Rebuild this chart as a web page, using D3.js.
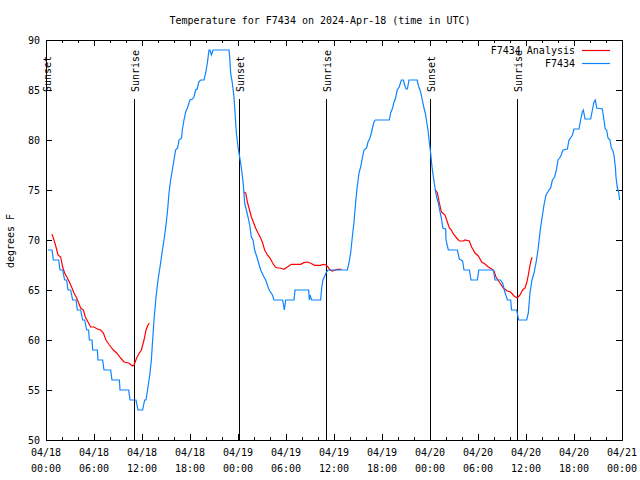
<!DOCTYPE html>
<html><head><meta charset="utf-8">
<script src="https://cdn.jsdelivr.net/npm/d3@7"></script>
<style>
html,body{margin:0;padding:0;background:#fff;}
svg{display:block;}
text{font-family:"DejaVu Sans Mono","Liberation Mono",monospace;font-size:10px;fill:#000;}
</style></head>
<body>
<script>
// ---- data (hours after 2024-04-18 00:00 UTC, degrees F) ----
const stationHours = [0.25,0.75,0.92,1.58,1.75,2.08,2.33,2.58,2.75,3.08,3.33,3.75,3.92,4.33,4.58,4.83,5.08,5.33,5.42,5.75,5.83,6.42,6.5,7.08,7.25,8.08,8.25,9.17,9.25,10.33,10.5,11.25,11.5,12.08,12.33,12.5,12.75,13.0,13.17,13.33,13.5,13.75,14.0,14.25,14.5,14.75,15.0,15.2,15.375,15.58,15.79,16.0,16.2,16.45,16.625,16.95,17.04,17.25,17.46,17.67,18.0,18.3,18.5,18.7,18.9,19.1,19.33,19.75,19.96,20.17,20.375,20.5,20.67,20.875,22.875,22.96,23.08,23.29,23.5,23.625,23.8,24.0,24.125,24.33,24.5,24.67,24.83,25.04,25.25,25.46,25.67,25.875,26.08,26.4,26.83,27.25,27.46,27.67,27.9,28.3,28.5,29.58,29.79,29.96,31.0,31.125,32.83,32.92,33.0,33.2,34.33,34.46,34.625,35.0,35.25,37.67,37.875,38.08,38.29,38.5,38.7,38.9,39.125,39.33,39.54,39.75,40.08,40.25,40.5,40.67,40.83,41.0,41.17,42.92,43.08,43.33,43.5,43.7,43.9,44.15,44.42,44.67,44.83,45.0,45.17,45.375,46.4,46.6,46.83,47.04,47.25,47.46,47.6,47.75,47.92,48.08,48.25,48.42,48.625,48.83,49.04,49.25,49.42,49.6,49.96,50.0,50.29,51.42,51.67,52.08,52.25,52.92,53.125,53.92,54.1,55.92,56.125,56.8,57.08,57.29,57.67,58.08,58.2,58.83,59.08,60.08,60.29,60.5,60.75,61.0,61.25,61.5,61.75,62.0,62.25,62.5,62.875,63.08,63.3,63.58,63.8,64.0,64.2,64.4,64.625,65.17,65.375,65.58,65.8,66.0,66.625,66.83,67.04,67.17,67.375,68.08,68.3,68.5,68.67,68.83,69.54,69.75,69.9,70.08,70.25,70.5,70.67,70.83,71.0,71.17,71.25,71.42,71.58,71.7];
const stationTemps = [69,69,68,68,67,67,66,66,65,65,64,64,63,63,62,62,61,61,60,60,59,59,58,58,57,57,56,56,55,55,54,54,53,53,54,54,55.3,56.7,58,60,62,64.3,66,67.3,68.7,70,71.5,73,74.7,76,77,78,79,79.2,80,80.2,81,82,82.8,83.2,84,84.1,84.3,85,85.1,85.8,86,86,86.7,87.7,89,89,88.5,89,89,88.3,86.7,85.7,84.3,82.7,80.7,79.3,78.7,77.7,76.7,75.5,73.7,73,72.3,71.5,70.3,70,69,68.2,67,66.3,66,65.5,65,64.5,64,64,63,64,64,65,65,64,64.5,64,64,65.2,66,66.7,67,67,67.7,68.7,70.3,71.8,73.7,75.3,76.7,77.3,78.2,79,79.2,79.8,80.2,80.7,81.3,81.8,82,82,82.7,83.2,83.8,84.2,85,85.3,86,86,85.5,85.1,85.1,86,86,85.3,84.8,84,83.2,82.5,81.7,81,79.7,78.7,77.3,76.3,75.2,74.3,73.7,72.8,72.2,71.2,71.1,70,69,69,68.1,67.9,67,67,66,66,67,67,66,66,65.7,65,64,64,63,63,62,62,62.7,64.7,66,66.7,67.7,69,70.8,72.2,73.5,74.5,75,75.2,76,76.3,77,78,78.2,78.5,79,79.1,80,80.2,80.5,81.1,81.1,82,82.8,83,82.1,82.1,83,83.8,84,83.2,83.1,82,81.1,81,80.2,80,79.2,79,78.5,77.3,76.3,75.2,74.8,74];

// analysis series: null marks a gap between runs
const analysisHours = [0.75,1.0,1.25,1.5,1.83,2.08,2.33,2.67,2.92,3.25,3.5,3.83,4.08,4.33,4.67,4.92,5.25,5.58,6.0,6.42,6.83,7.17,7.5,7.92,8.42,8.83,9.33,9.75,10.33,10.83,11.0,11.33,11.67,11.92,12.25,12.5,12.75,12.92,
  null,
  24.75,24.96,25.17,25.375,25.67,25.92,26.2,26.5,26.83,27.08,27.33,27.67,28.0,28.33,28.67,28.92,29.25,29.75,30.17,30.67,31.83,32.25,32.75,33.08,33.58,34.25,34.67,35.0,35.25,35.5,35.79,36.42,36.92,
  null,
  48.625,48.92,49.17,49.42,49.58,49.875,50.17,50.42,50.67,50.92,51.33,51.67,52.17,52.375,52.92,53.2,53.625,54.04,54.46,54.875,55.29,55.71,56.0,56.25,56.75,57.17,57.67,58.08,58.5,58.92,59.25,59.58,59.875,60.08,60.29,60.5,60.71,60.83];
const analysisTemps = [70.57,70.0,69.3,68.5,68.3,67.3,66.7,66.2,65.8,65.2,64.7,64.2,63.7,63.2,63.0,62.3,61.8,61.3,61.3,61.1,61.0,60.7,60.0,59.5,59.0,58.7,58.2,57.8,57.7,57.4,57.5,58.2,58.7,59.0,60.0,61.0,61.5,61.7,
  null,
  74.77,74.7,73.8,73.2,72.3,71.8,71.2,70.7,70.2,69.7,69.0,68.5,68.2,67.7,67.3,67.2,67.2,67.07,67.3,67.57,67.57,67.73,67.8,67.67,67.47,67.47,67.57,67.5,67.3,67.0,66.9,67.07,67.07,
  null,
  75.07,74.7,73.7,72.8,72.7,72.5,71.8,71.2,71.0,70.6,70.2,69.9,69.9,70.0,69.9,69.3,68.7,68.4,67.8,67.6,67.3,67.1,66.9,66.3,65.7,65.2,64.9,64.8,64.4,64.2,64.5,65.0,65.2,65.7,66.5,67.5,68.2,68.2];

const sunHours = [0.03, 11.04, 24.08, 35.04, 48.06, 58.92];
const sunLabels = ["Sunset","Sunrise","Sunset","Sunrise","Sunset","Sunrise"];
const yTicks = [50,55,60,65,70,75,80,85,90];
const seriesNames = ["F7434 Analysis","F7434"];
const seriesColors = ["#ff0000","#0a84ff"];
const titleText = "Temperature for F7434 on 2024-Apr-18 (time in UTC)";
const yLabel = "degrees F";

// ---- chart ----
const W = 640, H = 480;
const L = 46, R = 622, T = 40, B = 440;
const base = Date.UTC(2024,3,18,0,0);
const toDate = h => new Date(base + h*3600e3);

const svg = d3.select("body").append("svg").attr("width",W).attr("height",H);
svg.append("rect").attr("width",W).attr("height",H).attr("fill","#fff");

const x = d3.scaleUtc().domain([toDate(0), toDate(72)]).range([L,R]);
const y = d3.scaleLinear().domain([50,90]).range([B,T]);

function styleAxis(g){ g.select(".domain").remove(); g.selectAll("line").attr("stroke","#000").attr("shape-rendering","crispEdges"); g.selectAll("text").remove(); }

const major = d3.utcHour.every(6), minor = d3.utcHour.every(2);
svg.append("g").attr("transform",`translate(0,${B})`).call(d3.axisBottom(x).ticks(minor).tickSize(-3).tickFormat("")).call(styleAxis);
svg.append("g").attr("transform",`translate(0,${B})`).call(d3.axisBottom(x).ticks(major).tickSize(-6).tickFormat("")).call(styleAxis);
svg.append("g").attr("transform",`translate(0,${T})`).call(d3.axisTop(x).ticks(minor).tickSize(-3).tickFormat("")).call(styleAxis);
svg.append("g").attr("transform",`translate(0,${T})`).call(d3.axisTop(x).ticks(major).tickSize(-6).tickFormat("")).call(styleAxis);
svg.append("g").attr("transform",`translate(${L},0)`).call(d3.axisLeft(y).tickValues(yTicks).tickSize(-6).tickFormat("")).call(styleAxis);
svg.append("g").attr("transform",`translate(${R},0)`).call(d3.axisRight(y).tickValues(yTicks).tickSize(-6).tickFormat("")).call(styleAxis);

// tick labels
svg.append("g").selectAll("text").data(yTicks).join("text")
  .attr("x",L-6).attr("y",d=>y(d)+3.6).attr("text-anchor","end").text(d=>d);
const fmtD = d3.utcFormat("%m/%d"), fmtT = d3.utcFormat("%H:%M");
const xt = x.ticks(major);
const xl = svg.append("g").selectAll("g").data(xt).join("g");
xl.append("text").attr("x",d=>x(d)).attr("y",456).attr("text-anchor","middle").text(d=>fmtD(d));
xl.append("text").attr("x",d=>x(d)).attr("y",472).attr("text-anchor","middle").text(d=>fmtT(d));

// border
svg.append("rect").attr("x",L+0.5).attr("y",T+0.5).attr("width",R-L).attr("height",B-T)
  .attr("fill","none").attr("stroke","#000").attr("shape-rendering","crispEdges");

// sunrise/sunset lines
const sun = svg.append("g").selectAll("g").data(sunHours.map((h,i)=>({h,label:sunLabels[i]}))).join("g");
sun.append("line").attr("x1",d=>Math.round(x(toDate(d.h)))+0.5).attr("x2",d=>Math.round(x(toDate(d.h)))+0.5)
  .attr("y1",99).attr("y2",B).attr("stroke","#000").attr("stroke-width",1);
sun.append("text").attr("transform",d=>`translate(${x(toDate(d.h))+5},92) rotate(-90)`)
  .attr("text-anchor","start").text(d=>d.label);

// series
const station = stationHours.map((h,i)=>({d:toDate(h),v:stationTemps[i]}));
const analysis = analysisHours.map((h,i)=>({d:h===null?null:toDate(h),v:analysisTemps[i]}));
const line = d3.line().defined(p=>p.d!==null && p.v!==null).x(p=>x(p.d)).y(p=>y(p.v));
svg.append("path").datum(analysis).attr("d",line).attr("fill","none").attr("stroke",seriesColors[0]).attr("stroke-width",1.2);
svg.append("path").datum(station).attr("d",line).attr("fill","none").attr("stroke",seriesColors[1]).attr("stroke-width",1.2);

// legend
const lg = svg.append("g").selectAll("g").data(seriesNames).join("g");
lg.append("text").attr("x",575).attr("y",(d,i)=>50+i*13+3.6).attr("text-anchor","end").text(d=>d);
lg.append("line").attr("x1",582).attr("x2",610).attr("y1",(d,i)=>50.5+i*13).attr("y2",(d,i)=>50.5+i*13)
  .attr("stroke",(d,i)=>seriesColors[i]).attr("stroke-width",1.2);

// title and y label
svg.append("text").attr("x",320).attr("y",24).attr("text-anchor","middle").text(titleText);
svg.append("text").attr("transform",`translate(14,241) rotate(-90)`).attr("text-anchor","middle").text(yLabel);
</script>
</body></html>
